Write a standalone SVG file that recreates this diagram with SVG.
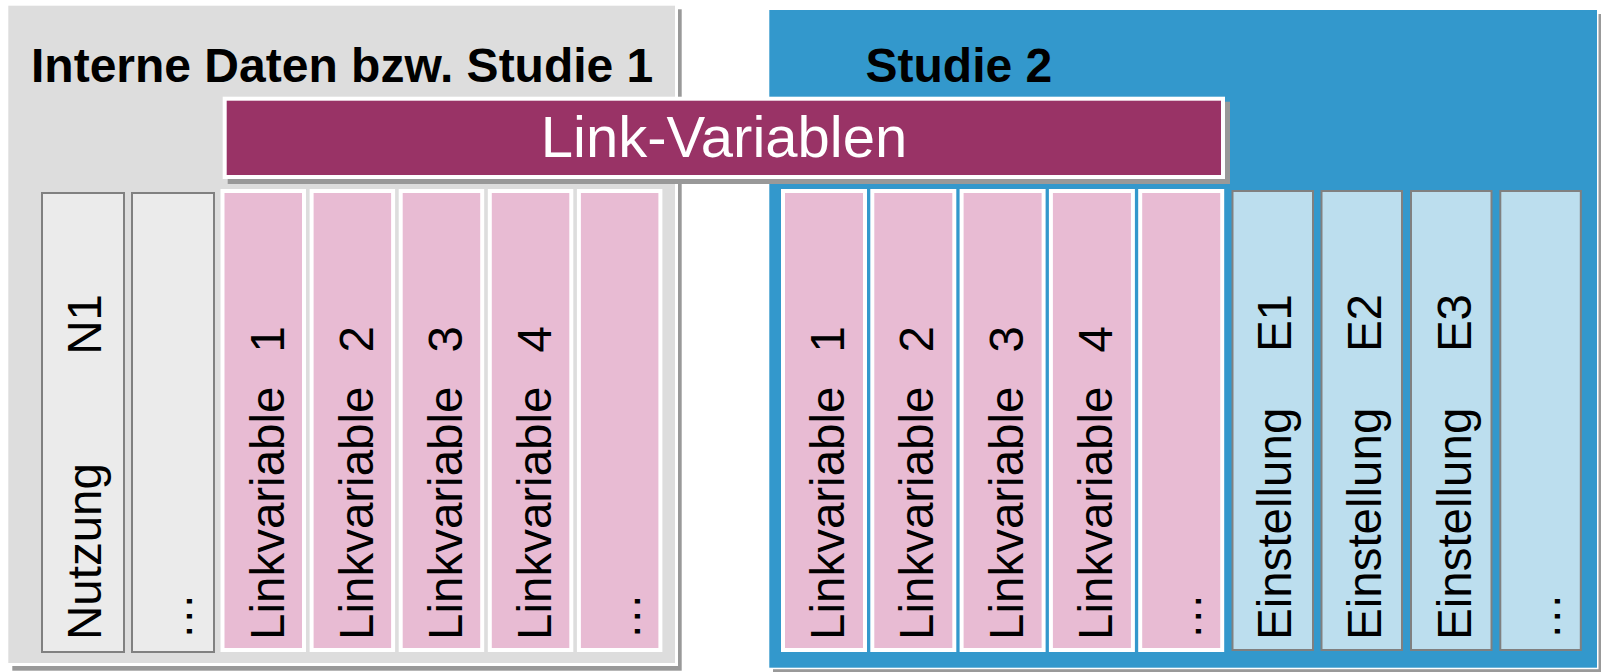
<svg xmlns="http://www.w3.org/2000/svg" width="1601" height="672" viewBox="0 0 1601 672">
<style>
.shadow{fill:#999999}
.halo{fill:#ffffff}
.panelL{fill:#dddddd}
.panelR{fill:#3398cc}
.title{font-family:"Liberation Sans",Arial,sans-serif;font-weight:bold;font-size:48px;fill:#000000}
.link{fill:#993366}
.linktxt{font-family:"Liberation Sans",Arial,sans-serif;font-size:58px;fill:#ffffff}
.gcol{fill:#ebebeb;stroke:#808080;stroke-width:2}
.bcol{fill:#bcdeee;stroke:#808080;stroke-width:2}
.pout{fill:#ffffff}
.pin{fill:#e8bbd3}
.ct{font-family:"Liberation Sans",Arial,sans-serif;font-size:47.5px;fill:#000000}
.end{text-anchor:end}
</style>

<g id="panel-interne">
  <rect class="shadow" x="12.3" y="9.3" width="669.4" height="661.4"/>
  <rect class="halo" x="5.3" y="2.7" width="672.7" height="663.3"/>
  <rect class="panelL" x="8.3" y="5.7" width="666.7" height="657.3"/>
  <text class="title" x="31" y="82">Interne Daten bzw. Studie 1</text>
</g>

<g id="panel-studie2">
  <rect class="shadow" x="773" y="14" width="828" height="658"/>
  <rect class="halo" x="768" y="8.7" width="830.5" height="660.5"/>
  <rect class="panelR" x="769.3" y="10" width="827.7" height="657.7"/>
  <text class="title" x="865.5" y="82">Studie 2</text>
</g>

<g id="col-nutzung">
  <rect class="gcol" x="42" y="193" width="82" height="459"/>
  <text class="ct" transform="translate(101,640) rotate(-90)">Nutzung</text>
  <text class="ct end" transform="translate(101,294) rotate(-90)">N1</text>
</g>
<g id="col-l-more">
  <rect class="gcol" x="132" y="193" width="82" height="459"/>
  <text class="ct" transform="translate(192,640) rotate(-90)">…</text>
</g>

<g id="col-l-lv1">
  <rect class="pout" x="220.5" y="189" width="85.5" height="463"/>
  <rect class="pin" x="224.5" y="193" width="77.5" height="455"/>
  <text class="ct" transform="translate(283.5,640) rotate(-90)">Linkvariable</text>
  <text class="ct end" transform="translate(283.5,326) rotate(-90)">1</text>
</g>
<g id="col-l-lv2">
  <rect class="pout" x="309.6" y="189" width="85.5" height="463"/>
  <rect class="pin" x="313.6" y="193" width="77.5" height="455"/>
  <text class="ct" transform="translate(372.6,640) rotate(-90)">Linkvariable</text>
  <text class="ct end" transform="translate(372.6,326) rotate(-90)">2</text>
</g>
<g id="col-l-lv3">
  <rect class="pout" x="398.7" y="189" width="85.5" height="463"/>
  <rect class="pin" x="402.7" y="193" width="77.5" height="455"/>
  <text class="ct" transform="translate(461.7,640) rotate(-90)">Linkvariable</text>
  <text class="ct end" transform="translate(461.7,326) rotate(-90)">3</text>
</g>
<g id="col-l-lv4">
  <rect class="pout" x="487.8" y="189" width="85.5" height="463"/>
  <rect class="pin" x="491.8" y="193" width="77.5" height="455"/>
  <text class="ct" transform="translate(550.8,640) rotate(-90)">Linkvariable</text>
  <text class="ct end" transform="translate(550.8,326) rotate(-90)">4</text>
</g>
<g id="col-l-lvmore">
  <rect class="pout" x="576.9" y="189" width="85.5" height="463"/>
  <rect class="pin" x="580.9" y="193" width="77.5" height="455"/>
  <text class="ct" transform="translate(639.9,640) rotate(-90)">…</text>
</g>

<g id="col-r-lv1">
  <rect class="pout" x="781" y="189" width="86" height="463"/>
  <rect class="pin" x="785" y="193" width="78" height="455"/>
  <text class="ct" transform="translate(844,640) rotate(-90)">Linkvariable</text>
  <text class="ct end" transform="translate(844,326) rotate(-90)">1</text>
</g>
<g id="col-r-lv2">
  <rect class="pout" x="870.3" y="189" width="86" height="463"/>
  <rect class="pin" x="874.3" y="193" width="78" height="455"/>
  <text class="ct" transform="translate(933.3,640) rotate(-90)">Linkvariable</text>
  <text class="ct end" transform="translate(933.3,326) rotate(-90)">2</text>
</g>
<g id="col-r-lv3">
  <rect class="pout" x="959.6" y="189" width="86" height="463"/>
  <rect class="pin" x="963.6" y="193" width="78" height="455"/>
  <text class="ct" transform="translate(1022.6,640) rotate(-90)">Linkvariable</text>
  <text class="ct end" transform="translate(1022.6,326) rotate(-90)">3</text>
</g>
<g id="col-r-lv4">
  <rect class="pout" x="1048.9" y="189" width="86" height="463"/>
  <rect class="pin" x="1052.9" y="193" width="78" height="455"/>
  <text class="ct" transform="translate(1111.9,640) rotate(-90)">Linkvariable</text>
  <text class="ct end" transform="translate(1111.9,326) rotate(-90)">4</text>
</g>
<g id="col-r-lvmore">
  <rect class="pout" x="1138.2" y="189" width="86" height="463"/>
  <rect class="pin" x="1142.2" y="193" width="78" height="455"/>
  <text class="ct" transform="translate(1201.2,640) rotate(-90)">…</text>
</g>

<g id="col-e1">
  <rect class="bcol" x="1232.5" y="191" width="80.5" height="459"/>
  <text class="ct" transform="translate(1291,640) rotate(-90)">Einstellung</text>
  <text class="ct end" transform="translate(1291,294) rotate(-90)">E1</text>
</g>
<g id="col-e2">
  <rect class="bcol" x="1321.5" y="191" width="80.5" height="459"/>
  <text class="ct" transform="translate(1380.5,640) rotate(-90)">Einstellung</text>
  <text class="ct end" transform="translate(1380.5,294) rotate(-90)">E2</text>
</g>
<g id="col-e3">
  <rect class="bcol" x="1411" y="191" width="80.5" height="459"/>
  <text class="ct" transform="translate(1470.5,640) rotate(-90)">Einstellung</text>
  <text class="ct end" transform="translate(1470.5,294) rotate(-90)">E3</text>
</g>
<g id="col-e-more">
  <rect class="bcol" x="1500.3" y="191" width="80.5" height="459"/>
  <text class="ct" transform="translate(1559.5,640) rotate(-90)">…</text>
</g>

<g id="link-variablen">
  <rect class="shadow" x="227.7" y="101.7" width="1002.3" height="82.3"/>
  <rect class="halo" x="222.7" y="96.7" width="1002.3" height="82.3"/>
  <rect class="link" x="226.7" y="100.7" width="994.3" height="74.3"/>
  <text class="linktxt" x="724" y="157" text-anchor="middle">Link-Variablen</text>
</g>

<g id="connectors"></g>
</svg>
